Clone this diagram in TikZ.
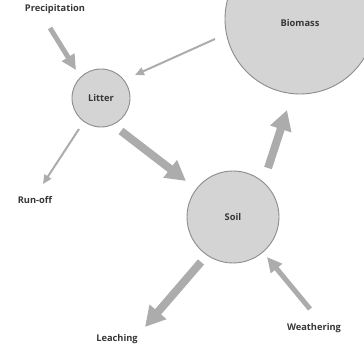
\documentclass[tikz,border=0pt]{standalone}
\usepackage{fontspec}
\setmainfont{Open Sans}
\usetikzlibrary{arrows.meta}
\definecolor{circfill}{RGB}{212,212,212}
\definecolor{circline}{RGB}{140,140,140}
\definecolor{arrgray}{RGB}{172,172,172}
\definecolor{txt}{RGB}{55,55,55}
\begin{document}
\begin{tikzpicture}[x=1pt,y=-1pt,
  pool/.style={circle,draw=circline,line width=0.9pt,fill=circfill,inner sep=0pt,text=txt,font=\fontsize{9.3}{11}\selectfont\bfseries},
  lbl/.style={font=\fontsize{9.3}{11}\selectfont\bfseries,text=txt},
  bigflow/.style={draw=arrgray,line width=8pt,-{Triangle[length=20pt,width=21pt]}},
  midflow/.style={draw=arrgray,line width=5pt,-{Triangle[length=15pt,width=14pt]}},
  thinflow/.style={draw=arrgray,line width=2pt,-{Triangle[length=9pt,width=8pt]}}]
\path[use as bounding box] (0,0) rectangle (364,344);
\clip (0,0) rectangle (364,344);
\node[pool,minimum size=150pt] (biomass) at (300,19) {};
\node[lbl] (biomasstext) at (300,23) {Biomass};
\node[pool,minimum size=58pt] (litter) at (101,98) {Litter};
\node[pool,minimum size=92pt] (soil) at (233,217) {Soil};
\node[lbl] (precip) at (55,9) {Precipitation};
\node[lbl] (runoff) at (35,200) {Run-off};
\node[lbl] (leach) at (117,339) {Leaching};
\node[lbl] (weather) at (314,328) {Weathering};
\coordinate (pA) at (50,28);   \coordinate (pB) at (76,70);
\coordinate (bA) at (215,39);  \coordinate (bB) at (135,75);
\coordinate (rA) at (79,129);  \coordinate (rB) at (43,184);
\coordinate (lA) at (121,131); \coordinate (lB) at (186,181);
\coordinate (sA) at (268,168); \coordinate (sB) at (287,110);
\coordinate (eA) at (201,262); \coordinate (eB) at (145,327);
\coordinate (wA) at (310,309); \coordinate (wB) at (267,257);
\draw[midflow] (pA) -- (pB);
\draw[thinflow] (bA) -- (bB);
\draw[thinflow] (rA) -- (rB);
\draw[bigflow] (lA) -- (lB);
\draw[bigflow] (sA) -- (sB);
\draw[bigflow] (eA) -- (eB);
\draw[midflow] (wA) -- (wB);
\end{tikzpicture}
\end{document}
